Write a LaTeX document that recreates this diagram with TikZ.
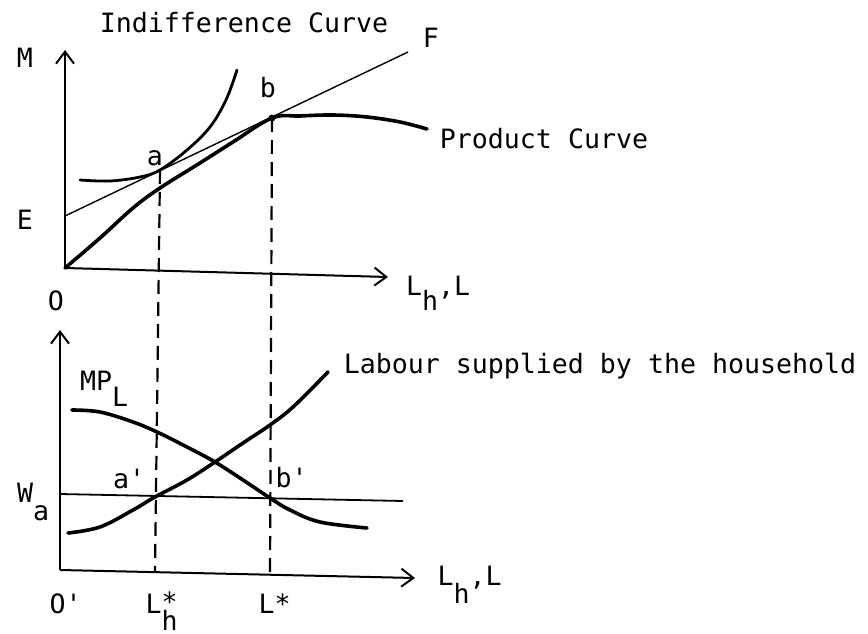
\documentclass[tikz,border=0pt]{standalone}
\usepackage{fontspec}
\newfontfamily\tw{DejaVu Sans Mono}
\usetikzlibrary{arrows.meta}
\begin{document}
\begin{tikzpicture}[x=1pt,y=-1pt,
  lbl/.style={inner sep=0pt, font={\tw\fontsize{26.6pt}{30pt}\selectfont}},
  axisline/.style={line width=2pt, -{Straight Barb[length=12pt,width=18pt]}},
  heavy/.style={line width=3.6pt, line cap=round, line join=round},
  thinline/.style={line width=1.4pt},
  dashline/.style={line width=2.2pt, dash pattern=on 14pt off 8pt}]
\useasboundingbox (0,0) rectangle (868,634);

% ---------- upper panel ----------
\coordinate (O) at (65,268);
\coordinate (Mtop) at (65,50);
\coordinate (Xend) at (388,277);
\coordinate (Estart) at (65,216);
\coordinate (Fend) at (408,52);
\coordinate (a) at (160,170);
\coordinate (b) at (272,118);

\draw[axisline] (O) -- (Mtop);
\draw[axisline] (O) -- (Xend);
\draw[thinline] (Estart) -- (Fend);

\draw[heavy] plot[smooth, tension=0.6] coordinates {(O) (100,238) (133,208) (160,188) (200,163) (233,142) (b) (300,116) (333,115) (367,117) (400,122) (427,129)};
\draw[heavy, line width=2.8pt] plot[smooth, tension=0.6] coordinates {(80,180) (110,181) (140,177) (a) (187,150) (210,127) (226,100) (237,70)};
\fill (b) circle (3.5pt);

\node[lbl, anchor=base] (indiff) at (244,33) {Indifference Curve};
\node[lbl, anchor=base] (Flbl) at (431,48) {F};
\node[lbl, anchor=base] (Mlbl) at (25,67) {M};
\node[lbl, anchor=base] (Elbl) at (25,229) {E};
\node[lbl, anchor=base] (Olbl) at (56,310) {O};
\node[lbl, anchor=base] (albl) at (155,165) {a};
\node[lbl, anchor=base] (blbl) at (268,97) {b};
\node[lbl, anchor=base] (prod) at (544,148) {Product Curve};
\node[lbl, anchor=base west] (xlbl) at (406,295) {L\raisebox{-15pt}{h},L};

% ---------- lower panel ----------
\coordinate (O2) at (60,570);
\coordinate (Ytop2) at (60,330);
\coordinate (Xend2) at (415,578);
\coordinate (Wstart) at (60,494);
\coordinate (Wend) at (403,501);
\coordinate (Lh) at (155,572);
\coordinate (Ls) at (270,574);

\draw[axisline] (O2) -- (Ytop2);
\draw[axisline] (O2) -- (Xend2);
\draw[line width=1.8pt] (Wstart) -- (Wend);

\draw[heavy] plot[smooth, tension=0.6] coordinates {(72,410) (100,412) (133,422) (157,432) (187,447) (215,462) (243,480) (270,498) (290,510) (320,522) (367,528)};
\draw[heavy] plot[smooth, tension=0.6] coordinates {(68,533) (100,527) (133,510) (155,497) (187,480) (215,462) (243,443) (270,425) (293,407) (328,372)};

\draw[dashline] (a) -- (Lh);
\draw[dashline] (b) -- (Ls);

\node[lbl, anchor=base] (labour) at (600,373) {Labour supplied by the household};
\node[lbl, anchor=base west] (mpl) at (80,390) {MP\raisebox{-16pt}{L}};
\node[lbl, anchor=base west] (wa) at (17,502) {W\raisebox{-18pt}{a}};
\node[lbl, anchor=base west] (aplbl) at (113,488) {a'};
\node[lbl, anchor=base west] (bplbl) at (275.5,487) {b'};
\node[lbl, anchor=base west] (O2lbl) at (49.5,613) {O'};
\node[lbl, anchor=base west] (lhstar) at (145.5,613) {L\rlap{\raisebox{2pt}{*}}\raisebox{-17pt}{h}};
\node[lbl, anchor=base west] (lstar) at (258.5,613) {L*};
\node[lbl, anchor=base west] (xlbl2) at (437.5,585) {L\raisebox{-18pt}{h},L};
\end{tikzpicture}
\end{document}
